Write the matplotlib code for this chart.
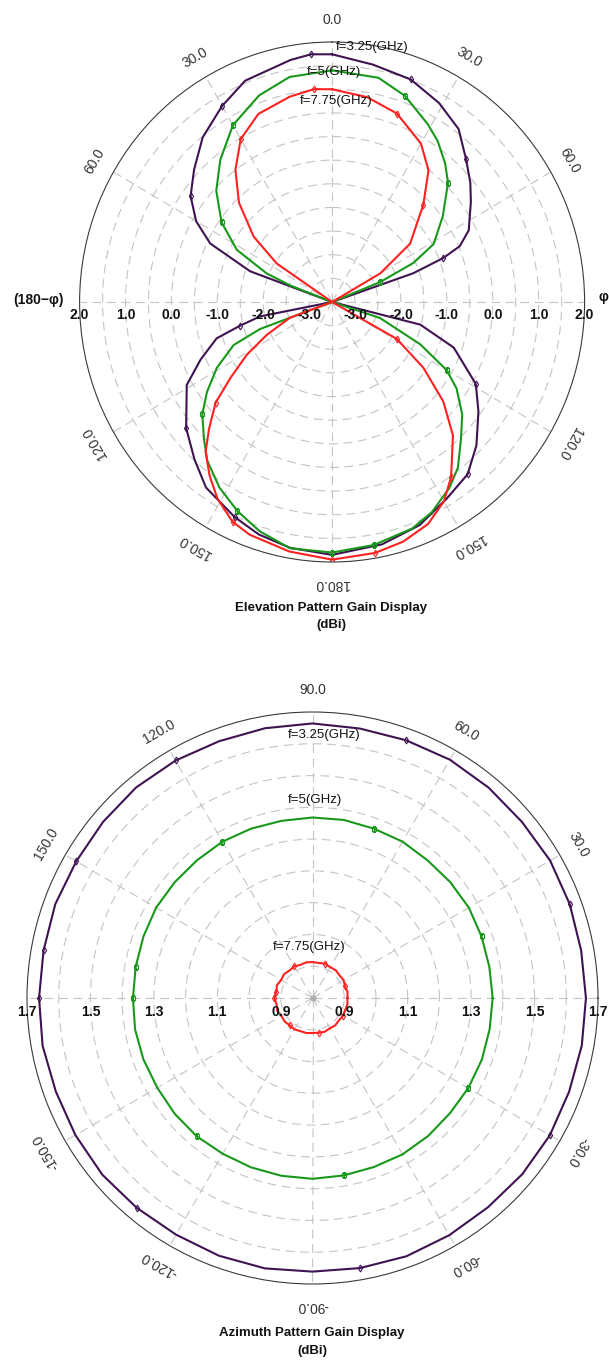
import numpy as np
import matplotlib
matplotlib.use('Agg')
import matplotlib.pyplot as plt

plt.rcParams['font.family'] = ['Liberation Sans', 'DejaVu Sans']

# Elevation pattern gain (dBi), angle in degrees clockwise from the top
el_theta_325 = [0, 10, 20, 29, 37, 44, 50, 55, 63, 67, 69, 71, 90, 104, 110, 119, 126, 134, 141, 149,
                158, 168, 180, 190, 198, 205, 215, 222, 230, 241, 247, 253, 256, 259, 270, 290, 295, 300,
                306, 313, 321, 330, 338, 350, 355, 360]
el_gain_325 = [1.74, 1.60, 1.51, 1.31, 1.08, 0.70, 0.43, 0.19, -0.16, -0.48, -0.91, -1.63, -3.5, -1.52,
               -0.68, 0.08, 0.44, 0.87, 1.19, 1.35, 1.59, 1.74, 1.85, 1.78, 1.67, 1.52, 1.29, 0.98, 0.65,
               0.12, -0.39, -0.87, -1.44, -1.90, -3.5, -1.60, -0.57, -0.08, 0.31, 0.61, 0.98, 1.29, 1.55,
               1.70, 1.76, 1.74]
el_marks_325 = [355, 20, 44, 69, 119, 141, 205, 230, 256, 306, 330]

el_theta_5 = [0, 12, 20, 29, 34, 40, 45, 53, 61, 65, 68, 90, 108, 115, 120, 124, 130, 136, 142, 147,
              154, 160, 170, 180, 190, 198, 205, 212, 219, 224, 230, 235, 241, 247, 250, 270, 291, 293,
              298, 305, 313, 321, 330, 340, 349, 360]
el_gain_5 = [1.40, 1.35, 1.14, 0.80, 0.61, 0.33, 0.07, -0.48, -0.97, -1.55, -2.37, -3.5, -2.40, -1.38,
             -0.62, -0.23, 0.20, 0.54, 0.95, 1.19, 1.45, 1.60, 1.72, 1.80, 1.79, 1.60, 1.38, 1.13, 0.82,
             0.52, 0.19, -0.17, -0.63, -1.17, -1.83, -3.5, -2.52, -1.95, -1.15, -0.56, -0.05, 0.37, 0.82,
             1.15, 1.35, 1.40]
el_marks_5 = [20, 45, 68, 120, 170, 180, 205, 230, 305, 330]

el_theta_775 = [0, 10, 19.5, 30, 37, 44, 54, 60, 90, 119, 125, 131, 137, 145, 150, 156, 163, 170, 180,
                190, 200, 205, 211, 216, 221, 225, 230, 234, 239, 244, 250, 270, 304, 309, 316, 323, 330,
                338, 348, 355, 360]
el_gain_775 = [1.00, 0.90, 0.73, 0.37, -0.01, -0.64, -1.40, -2.29, -3.5, -1.89, -1.07, -0.29, 0.36, 1.02,
               1.37, 1.64, 1.80, 1.89, 1.95, 1.86, 1.74, 1.63, 1.35, 1.04, 0.70, 0.29, -0.19, -0.76, -1.33,
               -1.92, -2.52, -3.5, -2.05, -1.30, -0.58, 0.0, 0.48, 0.79, 0.94, 1.02, 1.00]
el_marks_775 = [355, 19.5, 44, 119, 145, 170, 180, 205, 230, 330]

el_rings = [-3.0, -2.5, -2.0, -1.5, -1.0, -0.5, 0.0, 0.5, 1.0, 1.5]
el_rlabels = ['2.0', '1.0', '0.0', '-1.0', '-2.0', '-3.0']
el_rlabel_pos = [2.0, 1.0, 0.0, -1.0, -2.0, -3.0]
el_angle_ticks = [0, 30, 60, 120, 150, 180, 210, 240, 300, 330]
el_angle_labels = ['0.0', '30.0', '60.0', '120.0', '150.0', '180.0', '150.0', '120.0', '60.0', '30.0']

# Azimuth pattern gain (dBi), angle in degrees counter-clockwise from the right
az_theta = [0, 10, 20, 30, 40, 50, 60, 70, 80, 90, 100, 110, 120, 130, 140, 150, 160, 170,
            180, 190, 200, 210, 220, 230, 240, 250, 260, 270, 280, 290, 300, 310, 320, 330, 340, 350, 360]
az_gain_325 = [1.662, 1.660, 1.663, 1.665, 1.662, 1.664, 1.666, 1.663, 1.661, 1.664, 1.662, 1.660,
               1.663, 1.665, 1.662, 1.660, 1.663, 1.661, 1.662, 1.664, 1.661, 1.663, 1.665, 1.662,
               1.660, 1.663, 1.664, 1.661, 1.663, 1.665, 1.662, 1.660, 1.663, 1.664, 1.661, 1.662, 1.662]
az_gain_5 = [1.368, 1.366, 1.367, 1.369, 1.367, 1.365, 1.368, 1.367, 1.369, 1.368, 1.366, 1.367,
             1.368, 1.366, 1.367, 1.369, 1.367, 1.366, 1.366, 1.368, 1.367, 1.365, 1.367, 1.368,
             1.366, 1.367, 1.368, 1.369, 1.367, 1.366, 1.368, 1.367, 1.365, 1.367, 1.368, 1.367, 1.368]
az_gain_775 = [0.910, 0.912, 0.909, 0.913, 0.911, 0.914, 0.912, 0.915, 0.912, 0.913, 0.914, 0.911,
               0.915, 0.913, 0.917, 0.914, 0.919, 0.916, 0.920, 0.915, 0.918, 0.913, 0.915, 0.912,
               0.914, 0.911, 0.912, 0.910, 0.911, 0.913, 0.910, 0.912, 0.909, 0.911, 0.910, 0.912, 0.910]
az_marks = [20, 70, 120, 170, 180, 230, 280, 330]
az_marks_325 = [20, 70, 120, 150, 170, 180, 230, 280, 330]

az_rings = [0.9, 1.0, 1.1, 1.2, 1.3, 1.4, 1.5, 1.6]
az_rlabels = ['1.7', '1.5', '1.3', '1.1', '0.9']
az_rlabel_pos = [1.7, 1.5, 1.3, 1.1, 0.9]
az_angle_ticks = [30, 60, 90, 120, 150, 210, 240, 270, 300, 330]
az_angle_labels = ['30.0', '60.0', '90.0', '120.0', '150.0', '-150.0', '-120.0', '-90.0', '-60.0', '-30.0']

freq_labels = ['f=3.25(GHz)', 'f=5(GHz)', 'f=7.75(GHz)']
colors = ['#3f1252', '#17981a', '#ff2020']
markers = ['d', 's', 'd']

W, H = 609, 1362
fig = plt.figure(figsize=(W / 100, H / 100), dpi=100)


def style_polar(ax, rmin, rmax, rings):
    ax.set_ylim(rmin, rmax)
    ax.set_xticks(np.radians(np.arange(0, 360, 30)))
    ax.set_xticklabels([])
    ax.set_yticks(rings)
    ax.set_yticklabels([])
    ax.grid(True, color='#c4c4c4', linestyle=(0, (8, 5)), linewidth=0.8)
    ax.spines['polar'].set_color('#3a3a3a')
    ax.spines['polar'].set_linewidth(0.8)
    ax.set_aspect('auto')


def idx(theta, marks):
    return [list(theta).index(m) for m in marks]


# ---- Elevation chart ----
ax1 = fig.add_axes([79.6 / W, 1 - 562 / H, 505 / W, 520 / H], projection='polar')
ax1.set_theta_zero_location('N')
ax1.set_theta_direction(-1)
style_polar(ax1, -3.5, 2.0, el_rings)

el_series = [(el_theta_325, el_gain_325, el_marks_325),
             (el_theta_5, el_gain_5, el_marks_5),
             (el_theta_775, el_gain_775, el_marks_775)]
for (th, g, mk), c, m in zip(el_series, colors, markers):
    ax1.plot(np.radians(th), g, color=c, lw=1.5, marker=m, ms=3.5, mfc='none', mew=0.8,
             markevery=idx(th, mk))

for r, lab in zip(el_rlabel_pos, el_rlabels):
    for t in (np.pi / 2, 3 * np.pi / 2):
        ax1.annotate(lab, xy=(t, r), xytext=(0, -4), textcoords='offset points', ha='center',
                     va='top', fontsize=10, fontweight='bold', color='#111111', annotation_clip=False)

for d, lab in zip(el_angle_ticks, el_angle_labels):
    ax1.text(np.radians(d), 2.47, lab, rotation=-d, rotation_mode='anchor', ha='center',
             va='center', fontsize=10, color='#333333', clip_on=False)

fig.text(38 / W, 1 - 300 / H, '(180\u2212\u03c6)', ha='center', va='center', fontsize=10,
         fontweight='bold', color='#111111')
fig.text(603 / W, 1 - 297 / H, '\u03c6', ha='center', va='center', fontsize=10,
         fontweight='bold', color='#111111')

for lab, (x, y) in zip(freq_labels, [(336, 47), (307, 72), (300, 101)]):
    fig.text(x / W, 1 - y / H, lab, ha='left', va='center', fontsize=9.5, color='#111111')

fig.text(331 / W, 1 - 608 / H, 'Elevation Pattern Gain Display', ha='center', va='center',
         fontsize=9.5, fontweight='bold', color='#111111')
fig.text(331 / W, 1 - 625 / H, '(dBi)', ha='center', va='center', fontsize=9.5,
         fontweight='bold', color='#111111')

# ---- Azimuth chart ----
ax2 = fig.add_axes([27 / W, 1 - 1284 / H, 571 / W, 572 / H], projection='polar')
style_polar(ax2, 0.8, 1.7, az_rings)

az_series = [(az_gain_325, az_marks_325), (az_gain_5, az_marks), (az_gain_775, az_marks)]
for (g, mk), c, m in zip(az_series, colors, markers):
    ax2.plot(np.radians(az_theta), g, color=c, lw=1.5, marker=m, ms=3.5, mfc='none', mew=0.8,
             markevery=idx(az_theta, mk))
ax2.plot([0], [0.8], 'o', color='#b0b0b0', ms=3.5)

for r, lab in zip(az_rlabel_pos, az_rlabels):
    for t in (0, np.pi):
        ax2.annotate(lab, xy=(t, r), xytext=(0, -5), textcoords='offset points', ha='center',
                     va='top', fontsize=10, fontweight='bold', color='#111111', annotation_clip=False)

for d, lab in zip(az_angle_ticks, az_angle_labels):
    ax2.text(np.radians(d), 1.768, lab, rotation=d - 90, rotation_mode='anchor', ha='center',
             va='center', fontsize=10, color='#333333', clip_on=False)

for lab, (x, y) in zip(freq_labels, [(324, 735), (315, 800), (309, 947)]):
    fig.text(x / W, 1 - y / H, lab, ha='center', va='center', fontsize=9.5, color='#111111')

fig.text(312 / W, 1 - 1333 / H, 'Azimuth Pattern Gain Display', ha='center', va='center',
         fontsize=9.5, fontweight='bold', color='#111111')
fig.text(312 / W, 1 - 1351 / H, '(dBi)', ha='center', va='center', fontsize=9.5,
         fontweight='bold', color='#111111')

fig.savefig('out.png', dpi=100, facecolor='white')
